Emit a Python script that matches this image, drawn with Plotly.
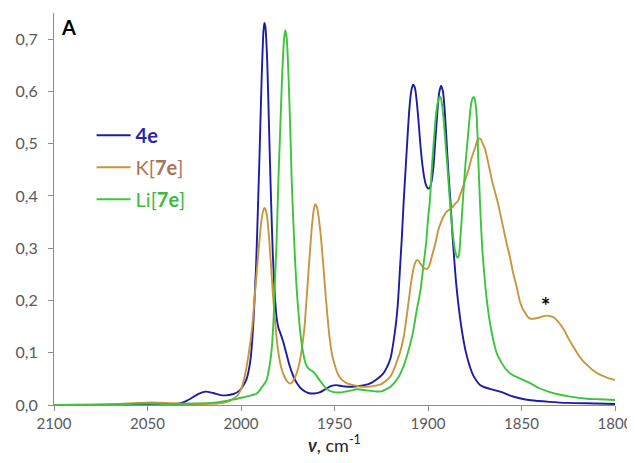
import plotly.graph_objects as go

# ---- data (wavenumber cm-1, absorbance) ----
wn_4e = [2100, 2080, 2060, 2045, 2035, 2031, 2027, 2023, 2019, 2015, 2011, 2008, 2004, 2001,
         1999, 1997, 1995, 1993.5, 1992, 1991, 1990, 1989, 1988, 1987.5, 1987, 1986, 1985,
         1984, 1983, 1982, 1981, 1980, 1979, 1977.5, 1976, 1974, 1972, 1970, 1967.5, 1964,
         1961, 1958, 1955, 1952, 1949, 1946, 1943, 1938, 1934, 1930, 1927, 1924, 1922, 1920,
         1918.5, 1917, 1916, 1915, 1914, 1913, 1912, 1911, 1910, 1909, 1908, 1907, 1906, 1905,
         1904, 1903, 1902, 1901, 1900, 1899, 1898, 1897, 1896, 1895, 1894, 1893, 1892, 1891,
         1890, 1889, 1888, 1887, 1886, 1885, 1884, 1882, 1880, 1878, 1876, 1874, 1872, 1869,
         1865, 1861, 1856, 1851, 1845, 1835, 1825, 1810, 1800]
abs_4e = [0.0, 0.0, 0.0005, 0.001, 0.002, 0.005, 0.012, 0.021, 0.0255, 0.023, 0.019, 0.0185, 0.021, 0.027,
          0.036, 0.05, 0.085, 0.15, 0.26, 0.37, 0.49, 0.62, 0.715, 0.731, 0.725, 0.66, 0.53,
          0.40, 0.29, 0.215, 0.168, 0.148, 0.138, 0.122, 0.102, 0.075, 0.055, 0.041, 0.03, 0.023,
          0.022, 0.024, 0.03, 0.036, 0.038, 0.036, 0.035, 0.036, 0.038, 0.043, 0.05, 0.06, 0.072, 0.09,
          0.12, 0.16, 0.2, 0.26, 0.32, 0.39, 0.45, 0.51, 0.565, 0.60, 0.613, 0.607, 0.58, 0.54,
          0.495, 0.46, 0.435, 0.42, 0.414, 0.416, 0.43, 0.46, 0.51, 0.56, 0.598, 0.611, 0.60, 0.56,
          0.50, 0.44, 0.39, 0.33, 0.28, 0.235, 0.2, 0.145, 0.105, 0.078, 0.058, 0.046, 0.038, 0.033,
          0.029, 0.025, 0.018, 0.013, 0.009, 0.006, 0.004, 0.003, 0.002]

wn_k7e = [2100, 2080, 2065, 2055, 2048, 2040, 2030, 2020, 2012, 2006, 2002, 2000, 1998, 1996,
          1994, 1992.5, 1991, 1990, 1989, 1988, 1987.5, 1987, 1986, 1985, 1984, 1983, 1982, 1981,
          1980, 1978.5, 1977, 1975, 1974, 1973, 1971.5, 1970, 1968.5, 1967, 1966, 1965, 1964, 1963,
          1962, 1961, 1960.3, 1959.5, 1958.5, 1957.5, 1956.5, 1955.5, 1954.5, 1953.5, 1952.5, 1951.5,
          1950, 1948, 1946, 1943, 1940, 1936, 1932, 1928, 1925, 1922, 1920, 1918, 1916, 1915, 1913,
          1911, 1909, 1907.5, 1906, 1905, 1904, 1902.5, 1901, 1900, 1899, 1897.5, 1896, 1894.5, 1893,
          1891.5, 1890, 1888.5, 1887, 1885.5, 1884, 1882.5, 1881, 1879.5, 1878, 1876.5, 1875, 1874,
          1873, 1872.3, 1871.5, 1870.5, 1869.5, 1868.5, 1867, 1865.5, 1864, 1862.5, 1861, 1859.5, 1858,
          1856, 1854.5, 1852.5, 1851, 1849.5, 1848, 1846.5, 1845, 1843.5, 1842, 1840, 1838, 1836.5,
          1835, 1833, 1831, 1829, 1827, 1825, 1822.5, 1820, 1817.5, 1815, 1812, 1808, 1804, 1800]
abs_k7e = [0.0, 0.0005, 0.002, 0.004, 0.005, 0.004, 0.002, 0.002, 0.003, 0.008, 0.018, 0.03, 0.055, 0.095,
           0.15, 0.215, 0.28, 0.32, 0.355, 0.373, 0.377, 0.375, 0.36, 0.32, 0.27, 0.215, 0.17, 0.13,
           0.10, 0.072, 0.056, 0.044, 0.041, 0.042, 0.05, 0.063, 0.085, 0.12, 0.15, 0.2, 0.25, 0.30,
           0.345, 0.375, 0.384, 0.38, 0.36, 0.33, 0.29, 0.245, 0.2, 0.16, 0.125, 0.1,
           0.078, 0.058, 0.048, 0.041, 0.038, 0.035, 0.035, 0.037, 0.04, 0.048, 0.055, 0.07, 0.09, 0.1, 0.13,
           0.18, 0.235, 0.265, 0.277, 0.276, 0.27, 0.263, 0.26, 0.262, 0.27, 0.29, 0.31, 0.335, 0.35,
           0.362, 0.37, 0.374, 0.378, 0.385, 0.39, 0.405, 0.42, 0.437, 0.455, 0.475, 0.49, 0.502,
           0.509, 0.51, 0.507, 0.498, 0.49, 0.475, 0.45, 0.425, 0.405, 0.385, 0.36, 0.335, 0.31,
           0.28, 0.253, 0.225, 0.2, 0.185, 0.176, 0.168, 0.165, 0.165, 0.166, 0.168, 0.17, 0.171,
           0.17, 0.168, 0.162, 0.153, 0.142, 0.128, 0.113, 0.098, 0.086, 0.077, 0.067, 0.058, 0.052, 0.048]

wn_li7e = [2100, 2080, 2060, 2050, 2040, 2025, 2016, 2008, 2001, 1996, 1991.6, 1989, 1986.3, 1984.5,
           1983.5, 1982.5, 1981.8, 1981, 1980, 1979, 1978, 1977, 1976.3, 1975.5, 1974.5, 1973.5, 1972.9,
           1972, 1971, 1970, 1969, 1968, 1967, 1965.5, 1964, 1962, 1960.4, 1958.5, 1956.8, 1954, 1951,
           1947, 1942, 1938, 1933, 1928, 1925, 1920, 1916, 1913, 1910, 1908, 1906, 1904, 1902.5, 1901,
           1900, 1899, 1898, 1897, 1896, 1895, 1894, 1893.3, 1892.5, 1891.5, 1890.5, 1889.5, 1888.5,
           1887.5, 1886.5, 1885.5, 1884.5, 1884, 1883.3, 1882.5, 1882, 1881, 1880, 1879, 1878, 1877,
           1876, 1875.5, 1875, 1874, 1873, 1872, 1871, 1870, 1869, 1868, 1867, 1866, 1864.5, 1863,
           1861, 1858, 1855, 1851, 1846, 1841, 1836, 1830, 1824, 1815, 1808, 1800]
abs_li7e = [0.0, 0.0005, 0.002, 0.003, 0.002, 0.003, 0.004, 0.008, 0.013, 0.017, 0.022, 0.033, 0.048, 0.08,
            0.11, 0.17, 0.24, 0.31, 0.43, 0.53, 0.63, 0.70, 0.717, 0.70, 0.62, 0.51, 0.43,
            0.35, 0.27, 0.21, 0.165, 0.13, 0.105, 0.08, 0.07, 0.065, 0.06, 0.05, 0.042, 0.03, 0.025,
            0.024, 0.027, 0.03, 0.028, 0.026, 0.026, 0.035, 0.052, 0.075, 0.11, 0.14, 0.182, 0.22, 0.265, 0.31,
            0.355, 0.39, 0.45, 0.50, 0.545, 0.575, 0.588, 0.589, 0.575, 0.54, 0.495, 0.45, 0.40,
            0.355, 0.32, 0.295, 0.283, 0.282, 0.29, 0.33, 0.355, 0.41, 0.46, 0.50, 0.54, 0.575,
            0.588, 0.589, 0.585, 0.555, 0.46, 0.37, 0.30, 0.255, 0.215, 0.185, 0.16, 0.14, 0.115, 0.097,
            0.083, 0.067, 0.058, 0.051, 0.043, 0.033, 0.026, 0.02, 0.016, 0.012, 0.011, 0.0095]

x_ticks = [2100, 2050, 2000, 1950, 1900, 1850, 1800]
y_ticks = [0.0, 0.1, 0.2, 0.3, 0.4, 0.5, 0.6, 0.7]

series = [
    (wn_4e, abs_4e, "#1c1ca6", "<span style='color:#2626b0'><b>4e</b></span>"),
    (wn_k7e, abs_k7e, "#c8963e", "<span style='color:#a8745a'>K[<b>7e</b>]</span>"),
    (wn_li7e, abs_li7e, "#3cc43c", "<span style='color:#3cbc3c'>Li[<b>7e</b>]</span>"),
]

fig = go.Figure()
for i, (x, y, col, name) in enumerate(series):
    fig.add_trace(go.Scatter(x=x, y=y, mode="lines", name=name, legendgroup=str(i),
                             line=dict(color=col, width=1.9, shape="spline", smoothing=0.6)))

axis_col = "#8c8c8c"
# the page body adds an 8px offset, so the figure is 8px smaller and margins shifted
fig.update_layout(
    width=627, height=455,
    margin=dict(l=46, r=20, t=5, b=58, autoexpand=False),
    paper_bgcolor="white", plot_bgcolor="white",
    separators=", ",
    font=dict(family="Lato, Open Sans, sans-serif", size=15, color="#595959"),
    showlegend=True,
    legend=dict(x=0.067, y=0.738, xanchor="left", yanchor="top",
                bgcolor="rgba(0,0,0,0)", font=dict(size=20),
                tracegroupgap=3, itemwidth=34),
    xaxis=dict(range=[2100, 1800], tickvals=x_ticks, tickformat="d", automargin=False,
               showgrid=False, zeroline=False, showline=True, linecolor=axis_col, linewidth=1,
               ticks="outside", ticklen=5, tickcolor=axis_col,
               title=dict(text="<b><i>ν</i></b>, cm<sup>-1</sup>", font=dict(size=18, color="#262626"),
                          standoff=6)),
    yaxis=dict(range=[0, 0.75], tickvals=y_ticks, tickformat=".1f", automargin=False,
               showgrid=False, zeroline=False, showline=True, linecolor=axis_col, linewidth=1,
               ticks="outside", ticklen=5, tickcolor=axis_col, ticklabelstandoff=7,
               tickfont=dict(size=16)),
    annotations=[
        dict(text="<b>A</b>", xref="paper", yref="paper", x=0.0085, y=1.0, xanchor="left",
             yanchor="top", showarrow=False, font=dict(size=20, color="#000000")),
        dict(text="<b>*</b>", xref="x", yref="y", x=1837, y=0.19, showarrow=False,
             font=dict(size=22, color="#000000")),
    ],
)

fig.write_html("out.html")
